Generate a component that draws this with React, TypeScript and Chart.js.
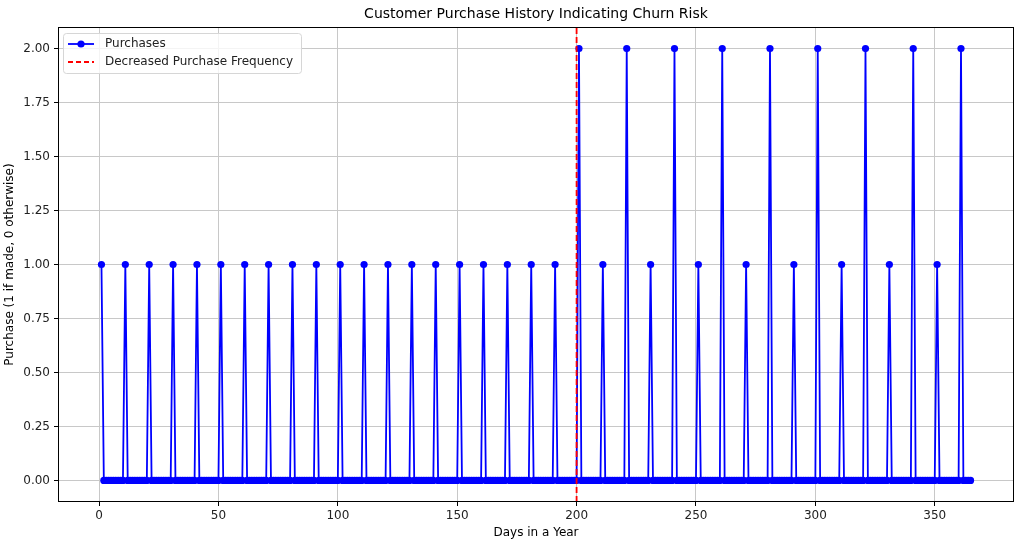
import React, { useEffect, useRef } from "react";
import { Chart, registerables } from "chart.js";

Chart.register(...registerables);

const TITLE = "Customer Purchase History Indicating Churn Risk";
const X_TITLE = "Days in a Year";
const Y_TITLE = "Purchase (1 if made, 0 otherwise)";
const FIRST_DAY = 1;
const LAST_DAY = 365;
const purchaseDays = [
  1, 11, 21, 31, 41, 51, 61, 71, 81, 91, 101, 111, 121, 131, 141, 151, 161, 171, 181, 191,
  201, 211, 221, 231, 241, 251, 261, 271, 281, 291, 301, 311, 321, 331, 341, 351, 361,
];
const purchaseCounts = [
  1, 1, 1, 1, 1, 1, 1, 1, 1, 1, 1, 1, 1, 1, 1, 1, 1, 1, 1, 1,
  2, 1, 2, 1, 2, 1, 2, 1, 2, 1, 2, 1, 2, 1, 2, 1, 2,
];
const changeDay = 200;
const xTicks = [0, 50, 100, 150, 200, 250, 300, 350];
const yTicks = [0, 0.25, 0.5, 0.75, 1.0, 1.25, 1.5, 1.75, 2.0];
const legendLabels = ["Purchases", "Decreased Purchase Frequency"];

const FONT = "'DejaVu Sans', sans-serif";
const GRID = "#c8c8c8";

export default function App() {
  const ref = useRef<HTMLCanvasElement | null>(null);

  useEffect(() => {
    const canvas = ref.current!;
    const series: { x: number; y: number }[] = [];
    for (let d = FIRST_DAY; d <= LAST_DAY; d++) {
      const i = purchaseDays.indexOf(d);
      series.push({ x: d, y: i >= 0 ? purchaseCounts[i] : 0 });
    }
    const span = LAST_DAY - FIRST_DAY;
    const xMin = FIRST_DAY - span * 0.05;
    const xMax = LAST_DAY + span * 0.05;
    const yMin = -0.1;
    const yMax = 2.1;

    const deco = {
      id: "deco",
      afterDraw(chart: any) {
        const ctx = chart.ctx as CanvasRenderingContext2D;
        const a = chart.chartArea;
        ctx.save();
        ctx.strokeStyle = "#000";
        ctx.lineWidth = 1;
        ctx.strokeRect(a.left + 0.5, a.top + 0.5, a.right - a.left - 1, a.bottom - a.top - 1);
        ctx.fillStyle = "#000";
        ctx.font = `14px ${FONT}`;
        ctx.textAlign = "center";
        ctx.textBaseline = "middle";
        ctx.fillText(TITLE, (a.left + a.right) / 2, 14);
        ctx.font = `12px ${FONT}`;
        ctx.fillText(X_TITLE, (a.left + a.right) / 2, 533);
        ctx.save();
        ctx.translate(10, (a.top + a.bottom) / 2);
        ctx.rotate(-Math.PI / 2);
        ctx.fillText(Y_TITLE, 0, 0);
        ctx.restore();
        const lx = a.left + 5, ly = a.top + 6, lw = 238, lh = 40;
        ctx.beginPath();
        (ctx as any).roundRect(lx + 0.5, ly + 0.5, lw, lh, 3);
        ctx.fillStyle = "rgba(255,255,255,0.8)";
        ctx.fill();
        ctx.strokeStyle = "#d6d6d6";
        ctx.lineWidth = 1;
        ctx.stroke();
        const r1 = ly + 11, r2 = ly + 29;
        ctx.strokeStyle = "#0000ff";
        ctx.lineWidth = 1.8;
        ctx.beginPath();
        ctx.moveTo(lx + 5, r1);
        ctx.lineTo(lx + 31, r1);
        ctx.stroke();
        ctx.fillStyle = "#0000ff";
        ctx.beginPath();
        ctx.arc(lx + 18, r1, 3.6, 0, Math.PI * 2);
        ctx.fill();
        ctx.strokeStyle = "#ff0000";
        ctx.setLineDash([5, 3]);
        ctx.beginPath();
        ctx.moveTo(lx + 5, r2);
        ctx.lineTo(lx + 31, r2);
        ctx.stroke();
        ctx.setLineDash([]);
        ctx.fillStyle = "#222";
        ctx.font = `12px ${FONT}`;
        ctx.textAlign = "left";
        ctx.fillText(legendLabels[0], lx + 42, r1);
        ctx.fillText(legendLabels[1], lx + 42, r2);
        ctx.restore();
      },
    };

    const chart = new Chart(canvas, {
      type: "scatter",
      data: {
        datasets: [
          {
            label: legendLabels[1],
            data: [
              { x: changeDay, y: yMin },
              { x: changeDay, y: yMax },
            ],
            showLine: true,
            borderColor: "#ff0000",
            borderWidth: 1.8,
            borderDash: [6, 3],
            pointRadius: 0,
            order: 0,
          },
          {
            label: legendLabels[0],
            data: series,
            showLine: true,
            borderColor: "#0000ff",
            backgroundColor: "#0000ff",
            borderWidth: 1.8,
            pointRadius: 3.6,
            pointBorderWidth: 0,
            pointBackgroundColor: "#0000ff",
            order: 1,
          },
        ],
      },
      options: {
        responsive: false,
        animation: false,
        layout: { padding: { top: 27, right: 10, left: 0, bottom: 0 } },
        plugins: { legend: { display: false }, title: { display: false }, tooltip: { enabled: false } },
        scales: {
          x: {
            type: "linear",
            min: xMin,
            max: xMax,
            afterBuildTicks: (s: any) => {
              s.ticks = xTicks.map((v) => ({ value: v }));
            },
            afterFit: (s: any) => {
              s.height = 43;
            },
            ticks: {
              font: { family: FONT, size: 12 },
              color: "#222",
              padding: 3,
              maxRotation: 0,
              callback: (v: any) => String(v),
            },
            grid: { color: GRID, lineWidth: 1, tickLength: 4, tickColor: "#000", drawTicks: true },
            border: { display: false },
          },
          y: {
            type: "linear",
            min: yMin,
            max: yMax,
            afterBuildTicks: (s: any) => {
              s.ticks = yTicks.map((v) => ({ value: v }));
            },
            afterFit: (s: any) => {
              s.width = 58;
            },
            ticks: {
              font: { family: FONT, size: 12 },
              color: "#222",
              padding: 4,
              callback: (v: any) => Number(v).toFixed(2),
            },
            grid: { color: GRID, lineWidth: 1, tickLength: 4, tickColor: "#000", drawTicks: true },
            border: { display: false },
          },
        },
      },
      plugins: [deco],
    });
    return () => chart.destroy();
  }, []);

  return (
    <div style={{ position: "absolute", left: 0, top: 0, width: 1024, height: 545, background: "#fff" }}>
      <canvas ref={ref} width={1024} height={545} style={{ width: 1024, height: 545 }} />
    </div>
  );
}
